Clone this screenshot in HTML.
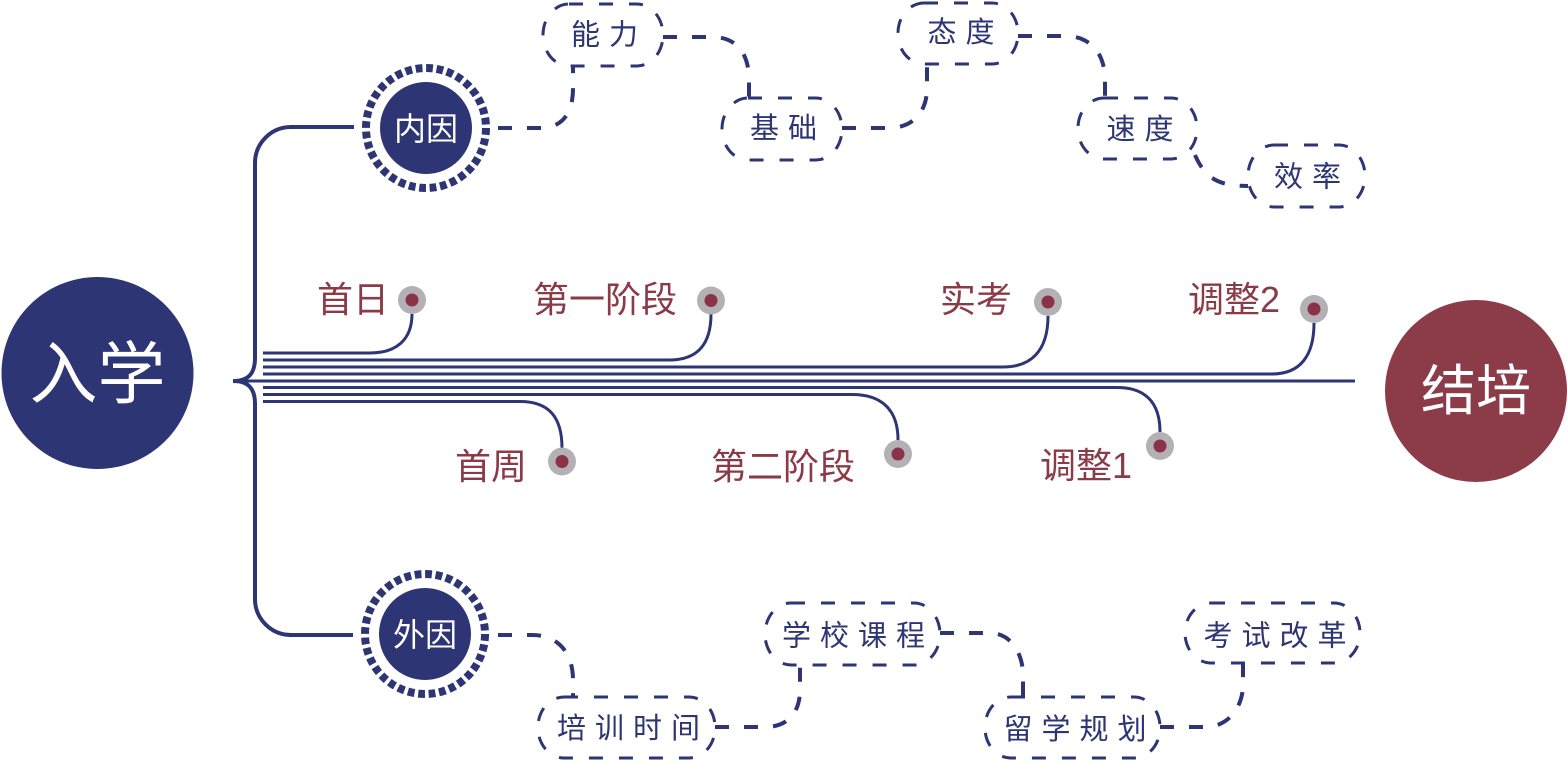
<!DOCTYPE html>
<html>
<head>
<meta charset="utf-8">
<style>
html,body{margin:0;padding:0;background:#fff;}
svg{display:block;}
text{font-family:"Liberation Sans","Noto Sans CJK SC",sans-serif;}
</style>
</head>
<body>
<svg width="1567" height="761" viewBox="0 0 1567 761" xmlns="http://www.w3.org/2000/svg">
  <rect width="1567" height="761" fill="#ffffff"/>

  <!-- Big circles -->
  <circle cx="97.5" cy="373" r="96" fill="#2e3574"/>
  <text x="97.5" y="398" font-size="68" fill="#ffffff" text-anchor="middle">入学</text>

  <circle cx="1476" cy="391" r="91" fill="#8b3c48"/>
  <text x="1476" y="410" font-size="55" fill="#ffffff" text-anchor="middle">结培</text>

  <!-- Tree with brace -->
  <path d="M354 127 H291 A36 36 0 0 0 255 163 V358 C255 374 248 381 233 381 C248 381 255 388 255 404 V599 A36 36 0 0 0 291 635 H353"
        fill="none" stroke="#2e3574" stroke-width="4"/>

  <!-- Bundle lines -->
  <g fill="none" stroke="#2e3574" stroke-width="3">
    <path d="M263 353 H370 C396 353 412 340 412 314"/>
    <path d="M263 360 H669 C695 360 711 347 711 314"/>
    <path d="M263 367 H1003 C1030 367 1048 352 1048 316"/>
    <path d="M263 374 H1272 C1300 374 1314 356 1314 323"/>
    <path d="M233 381 H1355"/>
    <path d="M263 387.5 H1117 C1145 387.5 1160 402 1160 432"/>
    <path d="M263 394.5 H852 C882 394.5 898 410 898 440"/>
    <path d="M263 401.5 H520 C548 401.5 562 416 562 448"/>
  </g>

  <!-- Dots -->
  <g>
    <circle cx="412" cy="300" r="14" fill="#b4b1b6"/><circle cx="412" cy="300" r="6.5" fill="#8a3347"/>
    <circle cx="711" cy="300.5" r="14" fill="#b4b1b6"/><circle cx="711" cy="300.5" r="6.5" fill="#8a3347"/>
    <circle cx="1048" cy="302" r="14" fill="#b4b1b6"/><circle cx="1048" cy="302" r="6.5" fill="#8a3347"/>
    <circle cx="1314" cy="309" r="14" fill="#b4b1b6"/><circle cx="1314" cy="309" r="6.5" fill="#8a3347"/>
    <circle cx="562" cy="461.5" r="14" fill="#b4b1b6"/><circle cx="562" cy="461.5" r="6.5" fill="#8a3347"/>
    <circle cx="898" cy="454" r="14" fill="#b4b1b6"/><circle cx="898" cy="454" r="6.5" fill="#8a3347"/>
    <circle cx="1160" cy="446" r="14" fill="#b4b1b6"/><circle cx="1160" cy="446" r="6.5" fill="#8a3347"/>
  </g>

  <!-- Labels -->
  <g font-size="36" fill="#8b3a48">
    <text x="317" y="312">首日</text>
    <text x="533" y="312">第一阶段</text>
    <text x="940" y="312">实考</text>
    <text x="1188" y="312">调整2</text>
    <text x="455" y="479">首周</text>
    <text x="711" y="479">第二阶段</text>
    <text x="1040" y="478">调整1</text>
  </g>

  <!-- 内因 / 外因 nodes -->
  <circle cx="426" cy="128" r="46" fill="#2e3574"/>
  <circle cx="426" cy="128" r="60" fill="none" stroke="#2e3574" stroke-width="8" stroke-dasharray="6.8 3.672"/>
  <text x="426" y="140" font-size="32" fill="#ffffff" text-anchor="middle">内因</text>

  <circle cx="425" cy="634" r="46" fill="#2e3574"/>
  <circle cx="425" cy="634" r="60" fill="none" stroke="#2e3574" stroke-width="8" stroke-dasharray="6.8 3.672"/>
  <text x="425" y="646" font-size="32" fill="#ffffff" text-anchor="middle">外因</text>

  <!-- Dashed connectors -->
  <g fill="none" stroke="#2e3574" stroke-width="4" stroke-dasharray="14 15">
    <path d="M498 128 H540 C565 128 573 110 573 88 V66"/>
    <path d="M663 37 H712 C738 37 749 55 749 80 V98"/>
    <path d="M842 128 H888 C915 128 927 110 927 88 V63"/>
    <path d="M1018 36 H1065 C1092 36 1105 55 1105 80 V98"/>
    <path d="M1195 155 C1205 178 1218 186 1248 186"/>
    <path d="M498 635 H532 C560 635 573 655 573 680 V697"/>
    <path d="M715 727 H765 C790 727 800 710 800 690 V665"/>
    <path d="M940 633 H990 C1012 633 1023 655 1023 675 V697"/>
    <path d="M1160 727 H1205 C1230 727 1243 705 1243 685 V663"/>
  </g>

  <!-- Dashed boxes -->
  <g fill="none" stroke="#2e3574" stroke-width="3" stroke-dasharray="14 16">
    <rect x="543" y="4" width="120" height="62" rx="26" ry="31"/>
    <rect x="722" y="98" width="120" height="62" rx="26" ry="31"/>
    <rect x="898" y="3" width="120" height="61" rx="26" ry="30"/>
    <rect x="1078" y="98" width="119" height="61" rx="26" ry="30"/>
    <rect x="1248" y="145" width="117" height="62" rx="26" ry="31"/>
    <rect x="538" y="697" width="177" height="61" rx="26" ry="30"/>
    <rect x="765" y="603" width="175" height="62" rx="26" ry="31"/>
    <rect x="985" y="697" width="175" height="61" rx="26" ry="30"/>
    <rect x="1185" y="603" width="175" height="60" rx="26" ry="30"/>
  </g>

  <!-- Box texts -->
  <g font-size="29" fill="#2e3574" text-anchor="middle" letter-spacing="9">
    <text x="609" y="44.5">能力</text>
    <text x="788" y="138">基础</text>
    <text x="965.5" y="42">态度</text>
    <text x="1144.5" y="139">速度</text>
    <text x="1312" y="186.5">效率</text>
    <text x="633" y="738">培训时间</text>
    <text x="858" y="645.5">学校课程</text>
    <text x="1079.5" y="739">留学规划</text>
    <text x="1279.5" y="645.5">考试改革</text>
  </g>
</svg>
</body>
</html>
